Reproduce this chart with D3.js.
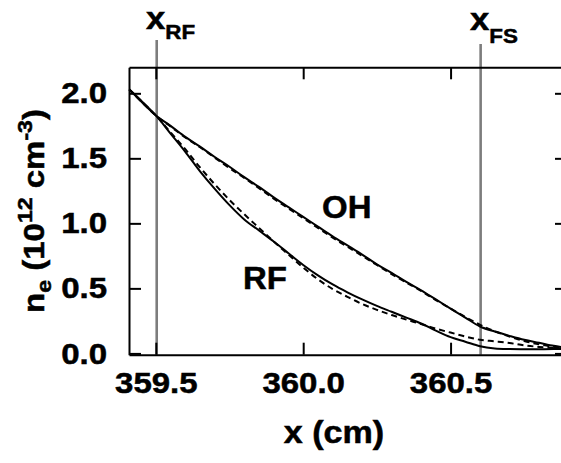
<!DOCTYPE html>
<html><head><meta charset="utf-8">
<script src="https://cdn.jsdelivr.net/npm/d3@7"></script>
<style>
body{margin:0;background:#fff;}
svg text{font-family:"Liberation Sans",Arial,Helvetica,sans-serif;font-weight:bold;fill:#000;stroke:#000;stroke-width:0.5px;}
</style>
</head><body>
<svg id="c" width="561" height="463"></svg>
<script>
const xGrid    = [359.41,359.50,359.55,359.60,359.65,359.70,359.75,359.80,359.85,359.90,359.95,360.00,360.05,360.10,360.15,360.20,360.25,360.30,360.35,360.40,360.45,360.50,360.55,360.60,360.65,360.70,360.75,360.80,360.85,360.89];
const ohSolid  = [2.03,1.83,1.75,1.665,1.59,1.51,1.435,1.355,1.28,1.20,1.125,1.05,0.975,0.90,0.83,0.76,0.685,0.62,0.55,0.485,0.415,0.345,0.275,0.207,0.168,0.135,0.105,0.082,0.058,0.045];
const ohDashed = [2.03,1.83,1.745,1.66,1.585,1.505,1.425,1.35,1.27,1.19,1.115,1.04,0.965,0.89,0.82,0.75,0.68,0.61,0.545,0.48,0.41,0.345,0.28,0.22,0.17,0.13,0.095,0.07,0.05,0.04];
const rfSolid  = [2.03,1.83,1.69,1.55,1.40,1.265,1.14,1.03,0.945,0.86,0.77,0.68,0.60,0.53,0.47,0.415,0.365,0.32,0.275,0.23,0.175,0.125,0.09,0.055,0.038,0.033,0.032,0.032,0.033,0.033];
const rfDashed = [2.03,1.83,1.70,1.57,1.43,1.30,1.18,1.07,0.965,0.86,0.76,0.66,0.57,0.495,0.435,0.38,0.335,0.295,0.26,0.225,0.19,0.16,0.13,0.105,0.093,0.08,0.062,0.05,0.042,0.038];
const xTicks = [359.5, 360.0, 360.5];
const yTicks = [0.0, 0.5, 1.0, 1.5, 2.0];
const markerX = [359.503, 360.602];
const markerSubs = ["RF", "FS"];
const curveLabels = ["OH", "RF"];

const svg = d3.select("#c");
const L = 129, R = 567, T = 67.3, B = 354.7;
const x = d3.scaleLinear().domain([359.409, 360.895]).range([L, R]);
const y = d3.scaleLinear().domain([-0.01, 2.2]).range([B, T]);
const SX = 1.1;

// vertical marker lines
const mTop = [40, 44];
markerX.forEach((mx, i) => {
  svg.append("line").attr("x1", x(mx)).attr("x2", x(mx))
    .attr("y1", mTop[i]).attr("y2", B)
    .attr("stroke", "#7d7d7d").attr("stroke-width", 2.6);
});

// curves
const line = d3.line().x((d, i) => x(xGrid[i])).y(d => y(d)).curve(d3.curveCatmullRom.alpha(0.5));
const series = [[ohSolid, null], [ohDashed, "6,4"], [rfSolid, null], [rfDashed, "6,4"]];
series.forEach(([vals, dash]) => {
  const p = svg.append("path").datum(vals).attr("d", line)
    .attr("fill", "none").attr("stroke", "#000").attr("stroke-width", 2);
  if (dash) p.attr("stroke-dasharray", dash);
});

// axes
function styleAxis(g) {
  g.select(".domain").attr("stroke", "#000").attr("stroke-width", 2);
  g.selectAll(".tick line").attr("stroke", "#000").attr("stroke-width", 2);
}
const gB = svg.append("g").attr("transform", `translate(0,${B})`)
  .call(d3.axisBottom(x).tickValues(xTicks).tickSizeInner(-12).tickSizeOuter(0).tickPadding(17).tickFormat(d3.format(".1f")));
styleAxis(gB);
gB.selectAll(".tick text").attr("font-size", 30).attr("font-family", null)
  .attr("transform", `scale(${SX},1)`);

const gT = svg.append("g").attr("transform", `translate(0,${T})`)
  .call(d3.axisTop(x).tickValues(xTicks).tickSizeInner(-12).tickSizeOuter(0).tickFormat(""));
styleAxis(gT);

const gL = svg.append("g").attr("transform", `translate(${L},0)`)
  .call(d3.axisLeft(y).tickValues(yTicks).tickSizeInner(-12).tickSizeOuter(0).tickPadding(0).tickFormat(d3.format(".1f")));
styleAxis(gL);
gL.selectAll(".tick text").attr("font-size", 30).attr("font-family", null)
  .attr("x", -22 / SX).attr("transform", `scale(${SX},1)`);

const gR = svg.append("g").attr("transform", `translate(${R},0)`)
  .call(d3.axisRight(y).tickValues(yTicks).tickSizeInner(-12).tickSizeOuter(0).tickFormat(""));
styleAxis(gR);

// axis titles
svg.append("text").attr("transform", `translate(334,443) scale(${SX},1)`)
  .attr("text-anchor", "middle").attr("font-size", 31).text("x (cm)");

const yt = svg.append("text").attr("transform", `translate(44,211) rotate(-90) scale(${SX},1)`)
  .attr("text-anchor", "middle").attr("font-size", 30);
yt.append("tspan").text("n");
yt.append("tspan").attr("font-size", 21).attr("dy", 7).text("e");
yt.append("tspan").attr("dy", -7).text(" (10");
yt.append("tspan").attr("font-size", 21).attr("dy", -12).text("12");
yt.append("tspan").attr("dy", 12).text(" cm");
yt.append("tspan").attr("font-size", 21).attr("dy", -12).text("-3");
yt.append("tspan").attr("dy", 12).text(")");

// marker labels
const labPos = [[146, 29, 10], [470, 30, 13]];
markerSubs.forEach((s, i) => {
  const t = svg.append("text").attr("transform", `translate(${labPos[i][0]},${labPos[i][1]}) scale(1.12,1)`)
    .attr("font-size", 31);
  t.append("tspan").text("x");
  t.append("tspan").attr("font-size", 20).attr("dy", labPos[i][2]).text(s);
});

// curve labels
const cl = [[322, 218], [243, 289]];
curveLabels.forEach((s, i) => {
  svg.append("text").attr("transform", `translate(${cl[i][0]},${cl[i][1]}) scale(1.03,1)`)
    .attr("font-size", 32).text(s);
});
</script>
</body></html>
